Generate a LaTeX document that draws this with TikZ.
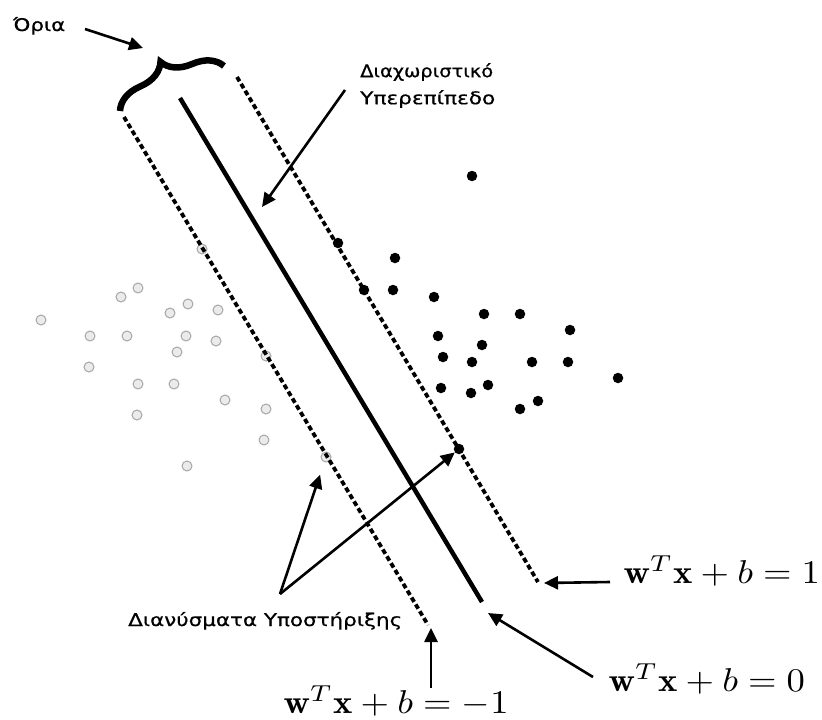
\documentclass[tikz,border=0pt]{standalone}
\usepackage{fontspec}
\usepackage{graphicx}
\newfontfamily\grfont[FakeBold=0.6]{DejaVu Sans}
\usetikzlibrary{arrows.meta,decorations.pathreplacing,calc}
\newcommand{\grw}[2]{\resizebox{#1pt}{\height}{#2}}
\begin{document}
\begin{tikzpicture}[x=1pt,y=-1pt,
  bdot/.style={circle,fill=black,inner sep=0pt,minimum size=10.5pt},
  gdot/.style={circle,fill=black!8,draw=black!35,line width=1pt,inner sep=0pt,minimum size=10pt},
  marginline/.style={line width=3.8pt,dash pattern=on 5pt off 3pt},
  hyperline/.style={line width=4.5pt},
  arr/.style={line width=2.6pt,-{Triangle[length=14pt,width=13pt]}},
  grtext/.style={font=\grfont\fontsize{17.5}{27}\selectfont,inner sep=0pt},
  eqlabel/.style={xscale=3.66,yscale=3.3,inner sep=0pt,anchor=base west},
  bracestyle/.style={decorate,decoration={brace,amplitude=29pt},line width=6.5pt}
]
\useasboundingbox (0,0) rectangle (822,720);

% data points
\foreach \x/\y [count=\i] in {472/176,338/243,395/258,364/290,393/290,434/297,484/314,520/314,570/330,438/336,482/345,443/357,472/362,532/362,568/362,618/378,441/388,471/393,488/385,538/401,520/409,459/449}
  \node[bdot] (b\i) at (\x,\y) {};
\foreach \x/\y [count=\i] in {202/249,138/288,121/297,41/320,188/304,170/313,218/310,90/336,127/336,186/336,216/341,177/352,266/356,89/367,138/384,174/384,225/400,266/409,137/415,264/440,187/466,326/457}
  \node[gdot] (g\i) at (\x,\y) {};

% margins and hyperplane
\coordinate (ldA) at (124,117); \coordinate (ldB) at (428,625);
\coordinate (hA) at (180,98);   \coordinate (hB) at (482,602);
\coordinate (rdA) at (237,77);  \coordinate (rdB) at (538,582);
\draw[marginline] (ldA) -- (ldB);
\draw[hyperline] (hA) -- (hB);
\draw[marginline] (rdA) -- (rdB);

% brace
\coordinate (brA) at (120,111); \coordinate (brB) at (224,66);
\draw[bracestyle] (brA) -- (brB);

% labels
\node[grtext,anchor=base west] (oria) at (13,31) {\grw{52}{Όρια}};
\node[grtext,align=left,anchor=north west] (hp) at (360,63) {\grw{133}{Διαχωριστικό}\\\grw{135}{Υπερεπίπεδο}};
\node[grtext,anchor=base west] (sv) at (128,626) {\grw{274}{Διανύσματα Υποστήριξης}};
\node[eqlabel] (l1) at (623,583) {$\mathbf{w}^T\mathbf{x}+b=1$};
\node[eqlabel] (l0) at (608,691) {$\mathbf{w}^T\mathbf{x}+b=0$};
\node[eqlabel] (lm) at (283,713) {$\mathbf{w}^T\mathbf{x}+b=-1$};

% arrows
\coordinate (oS) at (85,29);   \coordinate (oE) at (143,48);
\coordinate (hS) at (345,90);  \coordinate (hE) at (262,207);
\coordinate (apex) at (280,594);
\coordinate (a1s) at (610,582); \coordinate (a1e) at (544,583);
\coordinate (a0s) at (593,677); \coordinate (a0e) at (488,613);
\coordinate (ams) at (431,688); \coordinate (ame) at (431,628);
\draw[arr] (oS) -- (oE);
\draw[arr] (hS) -- (hE);
\draw[arr,shorten >=13pt] (apex) -- (g22);
\draw[arr] (apex) -- (b22);
\draw[arr] (a1s) -- (a1e);
\draw[arr] (a0s) -- (a0e);
\draw[arr] (ams) -- (ame);
\end{tikzpicture}
\end{document}
